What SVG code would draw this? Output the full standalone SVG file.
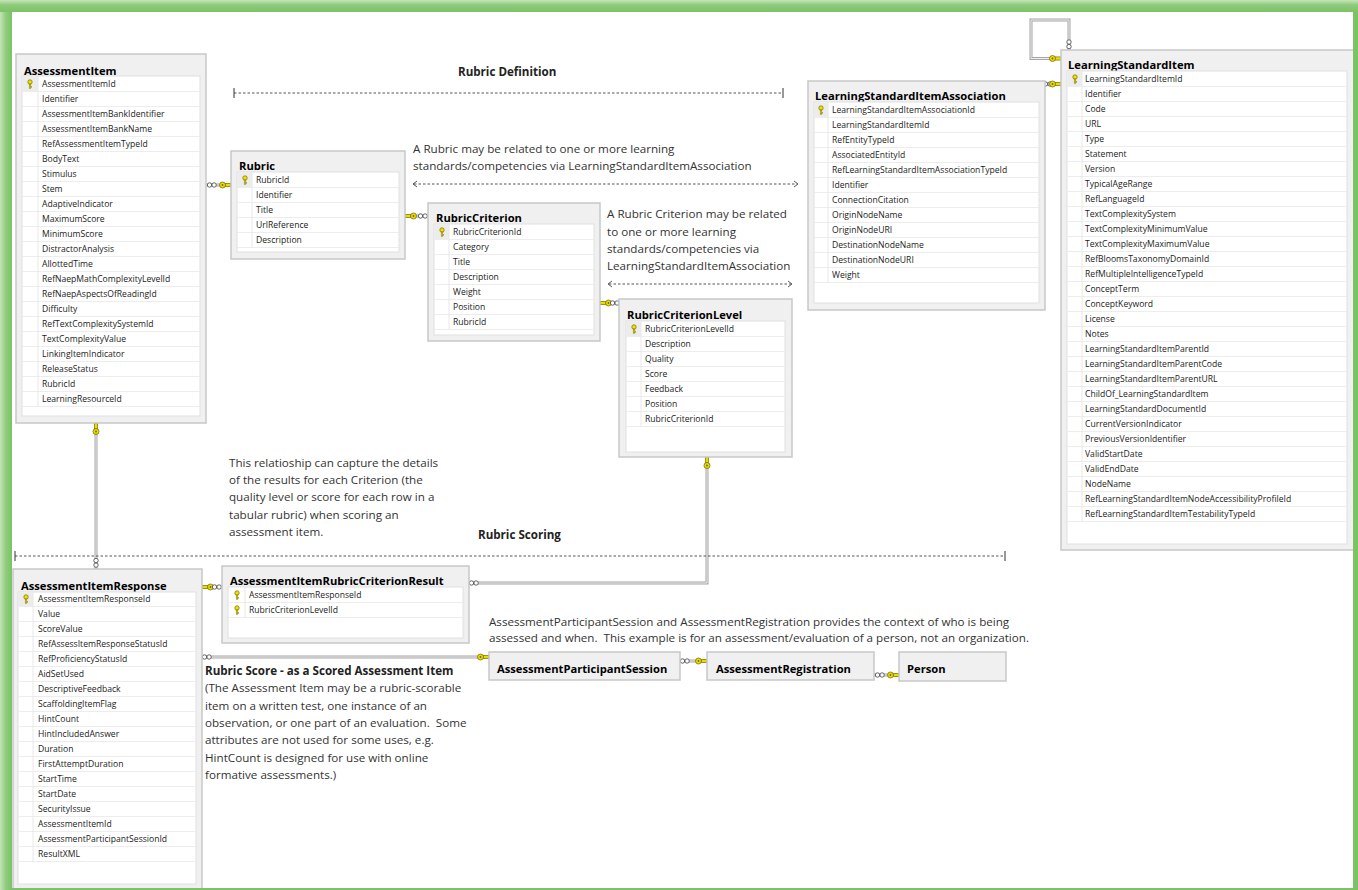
<svg xmlns="http://www.w3.org/2000/svg" xmlns:xlink="http://www.w3.org/1999/xlink" width="1358" height="890" viewBox="0 0 1358 890">
<style>
.tb{fill:#f0f0f0;stroke:#c8c8c8;stroke-width:1.5}
.in{fill:#fff;stroke:#e0e0e0;stroke-width:1}
.kc{fill:#ececec}
.rows{stroke:#ededed;stroke-dasharray:1 14}
.vs{stroke:#e8e8e8;stroke-width:1}
.tt{font-family:"Open Sans","Liberation Sans",sans-serif;font-weight:bold;font-size:11.2px;fill:#000}
.f{font-family:"Open Sans","Liberation Sans",sans-serif;font-size:8.6px;fill:#222}
.note{font-family:"Open Sans","Liberation Sans",sans-serif;font-size:11.65px;fill:#333;white-space:pre}
.hd{font-family:"Open Sans","Liberation Sans",sans-serif;font-weight:bold;font-size:11.6px;fill:#222}
.lo{fill:none;stroke:#a6a6a6;stroke-width:3}
.li{fill:none;stroke:#efefef;stroke-width:1}
.dash{stroke:#555;stroke-width:1;stroke-dasharray:2.5 2;fill:none}
.tick{stroke:#333;stroke-width:1}
.chev{fill:none;stroke:#444;stroke-width:0.9}
</style>
<defs>
<g id="rk"><circle cx="0" cy="-2" r="2.2" fill="#f0e200" stroke="#7a6c00" stroke-width="0.7"/><rect x="-0.8" y="0" width="1.6" height="4.2" fill="#f0e200" stroke="#7a6c00" stroke-width="0.5"/><rect x="0.8" y="2.4" width="1.2" height="1" fill="#7a6c00"/></g>
<g id="ck"><rect x="-6" y="-1.6" width="6" height="3.2" fill="#e9dc00" stroke="#6d6400" stroke-width="0.6"/><circle cx="-8.5" cy="0" r="3" fill="#e9dc00" stroke="#6d6400" stroke-width="0.7"/><circle cx="-8.5" cy="0" r="0.9" fill="#6d6400"/></g>
<g id="io"><circle cx="2.5" cy="0" r="2.2" fill="#fff" stroke="#555" stroke-width="0.9"/><circle cx="7.1" cy="0" r="2.2" fill="#fff" stroke="#555" stroke-width="0.9"/></g>
<linearGradient id="gl" x1="0" y1="0" x2="1" y2="0"><stop offset="0" stop-color="#c5e3b8"/><stop offset="0.5" stop-color="#8fcb7b"/><stop offset="1" stop-color="#7cc266"/></linearGradient>
<linearGradient id="gt" x1="0" y1="0" x2="0" y2="1"><stop offset="0" stop-color="#c8e5bc"/><stop offset="0.4" stop-color="#8fcb7b"/><stop offset="1" stop-color="#7cc266"/></linearGradient>
</defs>
<rect width="1358" height="890" fill="#fff"/>

<g id="connectors">
<path class="lo" d="M206 185H231"/><path class="li" d="M206 185H231"/>
<use href="#io" x="207" y="185"/><use href="#ck" transform="translate(231,185)"/>
<path class="lo" d="M405 216H428"/><path class="li" d="M405 216H428"/>
<use href="#ck" transform="translate(405,216) rotate(180)"/><use href="#io" x="418" y="216"/>
<path class="lo" d="M600 303H619"/><path class="li" d="M600 303H619"/>
<use href="#ck" transform="translate(600,303) rotate(180)"/><use href="#io" x="610" y="303"/>
<path class="lo" d="M96 423V569"/><path class="li" d="M96 423V569"/>
<use href="#ck" transform="translate(96,423) rotate(-90)"/><use href="#io" transform="translate(96,558) rotate(90)"/>
<path class="lo" d="M202 587H222"/><path class="li" d="M202 587H222"/>
<use href="#ck" transform="translate(202,587) rotate(180)"/><use href="#io" x="212" y="587"/>
<path class="lo" d="M469 583H707V457"/><path class="li" d="M469 583H707V457"/>
<use href="#io" x="469" y="583"/><use href="#ck" transform="translate(707,457) rotate(-90)"/>
<path class="lo" d="M202 657H489"/><path class="li" d="M202 657H489"/>
<use href="#io" x="202" y="657"/><use href="#ck" transform="translate(489,657)"/>
<path class="lo" d="M680 661H707"/><path class="li" d="M680 661H707"/>
<use href="#io" x="680" y="661"/><use href="#ck" transform="translate(707,661)"/>
<path class="lo" d="M874 675H899"/><path class="li" d="M874 675H899"/>
<use href="#io" x="875" y="675"/><use href="#ck" transform="translate(899,675)"/>
<path class="lo" d="M1045 84H1061"/><path class="li" d="M1045 84H1061"/>
<use href="#io" x="1043" y="84"/><use href="#ck" transform="translate(1061,84)"/>
<path class="lo" d="M1069 50V20H1031V58.5H1061"/><path class="li" d="M1069 50V20H1031V58.5H1061"/>
<use href="#io" transform="translate(1069,39.5) rotate(90)"/><use href="#ck" transform="translate(1061,58.5)"/>
</g>

<g id="annotations">
<text class="hd" x="458" y="76">Rubric Definition</text>
<path class="dash" d="M234 93H783"/><path class="tick" d="M234 88V98M783 88V98"/>
<text class="note" x="413" y="153">A Rubric may be related to one or more learning</text>
<text class="note" x="413" y="170">standards/competencies via LearningStandardItemAssociation</text>
<path class="dash" d="M414 184H797"/><path class="chev" d="M417 181L413 184L417 187M794 181L798 184L794 187"/>
<text class="note" x="607" y="218">A Rubric Criterion may be related</text>
<text class="note" x="607" y="236">to one or more learning</text>
<text class="note" x="607" y="253">standards/competencies via</text>
<text class="note" x="607" y="270">LearningStandardItemAssociation</text>
<path class="dash" d="M609 284H791"/><path class="chev" d="M612 281L608 284L612 287M788 281L792 284L788 287"/>
<text class="note" x="229" y="467">This relatioship can capture the details</text>
<text class="note" x="229" y="484">of the results for each Criterion (the</text>
<text class="note" x="229" y="501">quality level or score for each row in a</text>
<text class="note" x="229" y="519">tabular rubric) when scoring an</text>
<text class="note" x="229" y="536">assessment item.</text>
<text class="hd" x="478" y="539">Rubric Scoring</text>
<path class="dash" d="M15 556H1005"/><path class="tick" d="M15 551V561M1005 551V561"/>
<text class="note" x="489" y="626">AssessmentParticipantSession and AssessmentRegistration provides the context of who is being</text>
<text class="note" x="489" y="642" xml:space="preserve">assessed and when.  This example is for an assessment/evaluation of a person, not an organization.</text>
<text class="hd" x="205" y="675">Rubric Score - as a Scored Assessment Item</text>
<text class="note" x="205" y="692">(The Assessment Item may be a rubric-scorable</text>
<text class="note" x="205" y="710">item on a written test, one instance of an</text>
<text class="note" x="205" y="727" xml:space="preserve">observation, or one part of an evaluation.  Some</text>
<text class="note" x="205" y="744">attributes are not used for some uses, e.g.</text>
<text class="note" x="205" y="762">HintCount is designed for use with online</text>
<text class="note" x="205" y="779">formative assessments.)</text>
</g>

<g id="AssessmentItem">
<rect class="tb" x="16" y="54" width="190" height="369"/>
<text class="tt" x="24" y="75">AssessmentItem</text>
<rect class="in" x="22" y="76" width="178" height="340"/>
<rect class="kc" x="22.5" y="76.5" width="15.5" height="15"/>
<line class="rows" x1="111" y1="91" x2="111" y2="407" stroke-width="178"/>
<line class="vs" x1="38" y1="76" x2="38" y2="406.5"/>
<use href="#rk" x="30" y="84"/>
<g class="f">
<text x="42" y="87">AssessmentItemId</text><text x="42" y="102">Identifier</text><text x="42" y="117">AssessmentItemBankIdentifier</text><text x="42" y="132">AssessmentItemBankName</text><text x="42" y="147">RefAssessmentItemTypeId</text><text x="42" y="162">BodyText</text><text x="42" y="177">Stimulus</text><text x="42" y="192">Stem</text><text x="42" y="207">AdaptiveIndicator</text><text x="42" y="222">MaximumScore</text><text x="42" y="237">MinimumScore</text><text x="42" y="252">DistractorAnalysis</text><text x="42" y="267">AllottedTime</text><text x="42" y="282">RefNaepMathComplexityLevelId</text><text x="42" y="297">RefNaepAspectsOfReadingId</text><text x="42" y="312">Difficulty</text><text x="42" y="327">RefTextComplexitySystemId</text><text x="42" y="342">TextComplexityValue</text><text x="42" y="357">LinkingItemIndicator</text><text x="42" y="372">ReleaseStatus</text><text x="42" y="387">RubricId</text><text x="42" y="402">LearningResourceId</text>
</g>
</g>

<g id="Rubric">
<rect class="tb" x="231" y="151" width="174" height="108"/>
<text class="tt" x="239" y="170">Rubric</text>
<rect class="in" x="237" y="172" width="162" height="80"/>
<rect class="kc" x="237.5" y="172.5" width="14.5" height="15"/>
<line class="rows" x1="318" y1="187" x2="318" y2="248" stroke-width="162"/>
<line class="vs" x1="252" y1="172" x2="252" y2="247.5"/>
<use href="#rk" x="245" y="180"/>
<g class="f">
<text x="256" y="183">RubricId</text><text x="256" y="198">Identifier</text><text x="256" y="213">Title</text><text x="256" y="228">UrlReference</text><text x="256" y="243">Description</text>
</g>
</g>

<g id="RubricCriterion">
<rect class="tb" x="428" y="203" width="172" height="138"/>
<text class="tt" x="436" y="222">RubricCriterion</text>
<rect class="in" x="434" y="224" width="160" height="111"/>
<rect class="kc" x="434.5" y="224.5" width="14.5" height="15"/>
<line class="rows" x1="514" y1="239" x2="514" y2="330" stroke-width="160"/>
<line class="vs" x1="449" y1="224" x2="449" y2="329.5"/>
<use href="#rk" x="442" y="232"/>
<g class="f">
<text x="453" y="235">RubricCriterionId</text><text x="453" y="250">Category</text><text x="453" y="265">Title</text><text x="453" y="280">Description</text><text x="453" y="295">Weight</text><text x="453" y="310">Position</text><text x="453" y="325">RubricId</text>
</g>
</g>

<g id="RubricCriterionLevel">
<rect class="tb" x="619" y="299" width="173" height="158"/>
<text class="tt" x="627" y="319">RubricCriterionLevel</text>
<rect class="in" x="626" y="321" width="159" height="131"/>
<rect class="kc" x="626.5" y="321.5" width="14.5" height="15"/>
<line class="rows" x1="705.5" y1="336" x2="705.5" y2="427" stroke-width="159"/>
<line class="vs" x1="641" y1="321" x2="641" y2="426.5"/>
<use href="#rk" x="634" y="329"/>
<g class="f">
<text x="645" y="332">RubricCriterionLevelId</text><text x="645" y="347">Description</text><text x="645" y="362">Quality</text><text x="645" y="377">Score</text><text x="645" y="392">Feedback</text><text x="645" y="407">Position</text><text x="645" y="422">RubricCriterionId</text>
</g>
</g>

<g id="LearningStandardItemAssociation">
<rect class="tb" x="808" y="81" width="237" height="229"/>
<text class="tt" x="815" y="100">LearningStandardItemAssociation</text>
<rect class="in" x="814" y="102" width="225" height="201"/>
<rect class="kc" x="814.5" y="102.5" width="13.5" height="15"/>
<line class="rows" x1="926.5" y1="117" x2="926.5" y2="283" stroke-width="225"/>
<line class="vs" x1="828" y1="102" x2="828" y2="282.5"/>
<use href="#rk" x="821" y="110"/>
<g class="f">
<text x="832" y="113">LearningStandardItemAssociationId</text><text x="832" y="128">LearningStandardItemId</text><text x="832" y="143">RefEntityTypeId</text><text x="832" y="158">AssociatedEntityId</text><text x="832" y="173">RefLearningStandardItemAssociationTypeId</text><text x="832" y="188">Identifier</text><text x="832" y="203">ConnectionCitation</text><text x="832" y="218">OriginNodeName</text><text x="832" y="233">OriginNodeURI</text><text x="832" y="248">DestinationNodeName</text><text x="832" y="263">DestinationNodeURI</text><text x="832" y="278">Weight</text>
</g>
</g>

<g id="LearningStandardItem">
<rect class="tb" x="1061" y="50" width="300" height="500"/>
<text class="tt" x="1068" y="69">LearningStandardItem</text>
<rect class="in" x="1067" y="71" width="280" height="473"/>
<rect class="kc" x="1067.5" y="71.5" width="14.5" height="15"/>
<line class="rows" x1="1207" y1="86" x2="1207" y2="522" stroke-width="280"/>
<line class="vs" x1="1082" y1="71" x2="1082" y2="521.5"/>
<use href="#rk" x="1075" y="79"/>
<g class="f">
<text x="1085" y="82">LearningStandardItemId</text><text x="1085" y="97">Identifier</text><text x="1085" y="112">Code</text><text x="1085" y="127">URL</text><text x="1085" y="142">Type</text><text x="1085" y="157">Statement</text><text x="1085" y="172">Version</text><text x="1085" y="187">TypicalAgeRange</text><text x="1085" y="202">RefLanguageId</text><text x="1085" y="217">TextComplexitySystem</text><text x="1085" y="232">TextComplexityMinimumValue</text><text x="1085" y="247">TextComplexityMaximumValue</text><text x="1085" y="262">RefBloomsTaxonomyDomainId</text><text x="1085" y="277">RefMultipleIntelligenceTypeId</text><text x="1085" y="292">ConceptTerm</text><text x="1085" y="307">ConceptKeyword</text><text x="1085" y="322">License</text><text x="1085" y="337">Notes</text><text x="1085" y="352">LearningStandardItemParentId</text><text x="1085" y="367">LearningStandardItemParentCode</text><text x="1085" y="382">LearningStandardItemParentURL</text><text x="1085" y="397">ChildOf_LearningStandardItem</text><text x="1085" y="412">LearningStandardDocumentId</text><text x="1085" y="427">CurrentVersionIndicator</text><text x="1085" y="442">PreviousVersionIdentifier</text><text x="1085" y="457">ValidStartDate</text><text x="1085" y="472">ValidEndDate</text><text x="1085" y="487">NodeName</text><text x="1085" y="502">RefLearningStandardItemNodeAccessibilityProfileId</text><text x="1085" y="517">RefLearningStandardItemTestabilityTypeId</text>
</g>
</g>

<g id="AssessmentItemRubricCriterionResult">
<rect class="tb" x="222" y="566" width="247" height="77"/>
<text class="tt" x="230" y="585">AssessmentItemRubricCriterionResult</text>
<rect class="in" x="228" y="587" width="235" height="51"/>
<line class="rows" x1="345.5" y1="602" x2="345.5" y2="618" stroke-width="235"/>
<line class="vs" x1="245" y1="587" x2="245" y2="617.5"/>
<use href="#rk" x="237" y="595"/><use href="#rk" x="237" y="610"/>
<g class="f">
<text x="249" y="598">AssessmentItemResponseId</text><text x="249" y="613">RubricCriterionLevelId</text>
</g>
</g>

<g id="AssessmentItemResponse">
<rect class="tb" x="13" y="569" width="189" height="330"/>
<text class="tt" x="21" y="590">AssessmentItemResponse</text>
<rect class="in" x="18" y="592" width="178" height="292"/>
<rect class="kc" x="18.5" y="592.5" width="14.5" height="14"/>
<line class="rows" x1="107" y1="606" x2="107" y2="862" stroke-width="178"/>
<line class="vs" x1="33" y1="592" x2="33" y2="861.5"/>
<use href="#rk" x="26" y="599"/>
<g class="f">
<text x="38" y="602">AssessmentItemResponseId</text><text x="38" y="617">Value</text><text x="38" y="632">ScoreValue</text><text x="38" y="647">RefAssessItemResponseStatusId</text><text x="38" y="662">RefProficiencyStatusId</text><text x="38" y="677">AidSetUsed</text><text x="38" y="692">DescriptiveFeedback</text><text x="38" y="707">ScaffoldingItemFlag</text><text x="38" y="722">HintCount</text><text x="38" y="737">HintIncludedAnswer</text><text x="38" y="752">Duration</text><text x="38" y="767">FirstAttemptDuration</text><text x="38" y="782">StartTime</text><text x="38" y="797">StartDate</text><text x="38" y="812">SecurityIssue</text><text x="38" y="827">AssessmentItemId</text><text x="38" y="842">AssessmentParticipantSessionId</text><text x="38" y="857">ResultXML</text>
</g>
</g>

<g id="AssessmentParticipantSession">
<rect class="tb" x="489" y="652" width="191" height="28"/>
<text class="tt" x="497" y="673">AssessmentParticipantSession</text>
</g>
<g id="AssessmentRegistration">
<rect class="tb" x="707" y="652" width="167" height="28"/>
<text class="tt" x="716" y="673">AssessmentRegistration</text>
</g>
<g id="Person">
<rect class="tb" x="899" y="652" width="107" height="29"/>
<text class="tt" x="907" y="673">Person</text>
</g>

<g id="frame">
<path fill="#7cc266" fill-rule="evenodd" d="M0 0H1358V890H0Z M12 12V888H1353V12Z"/>
<rect x="0" y="0" width="12" height="890" fill="url(#gl)"/>
<rect x="0" y="0" width="1358" height="12" fill="url(#gt)"/>
</g>
</svg>
